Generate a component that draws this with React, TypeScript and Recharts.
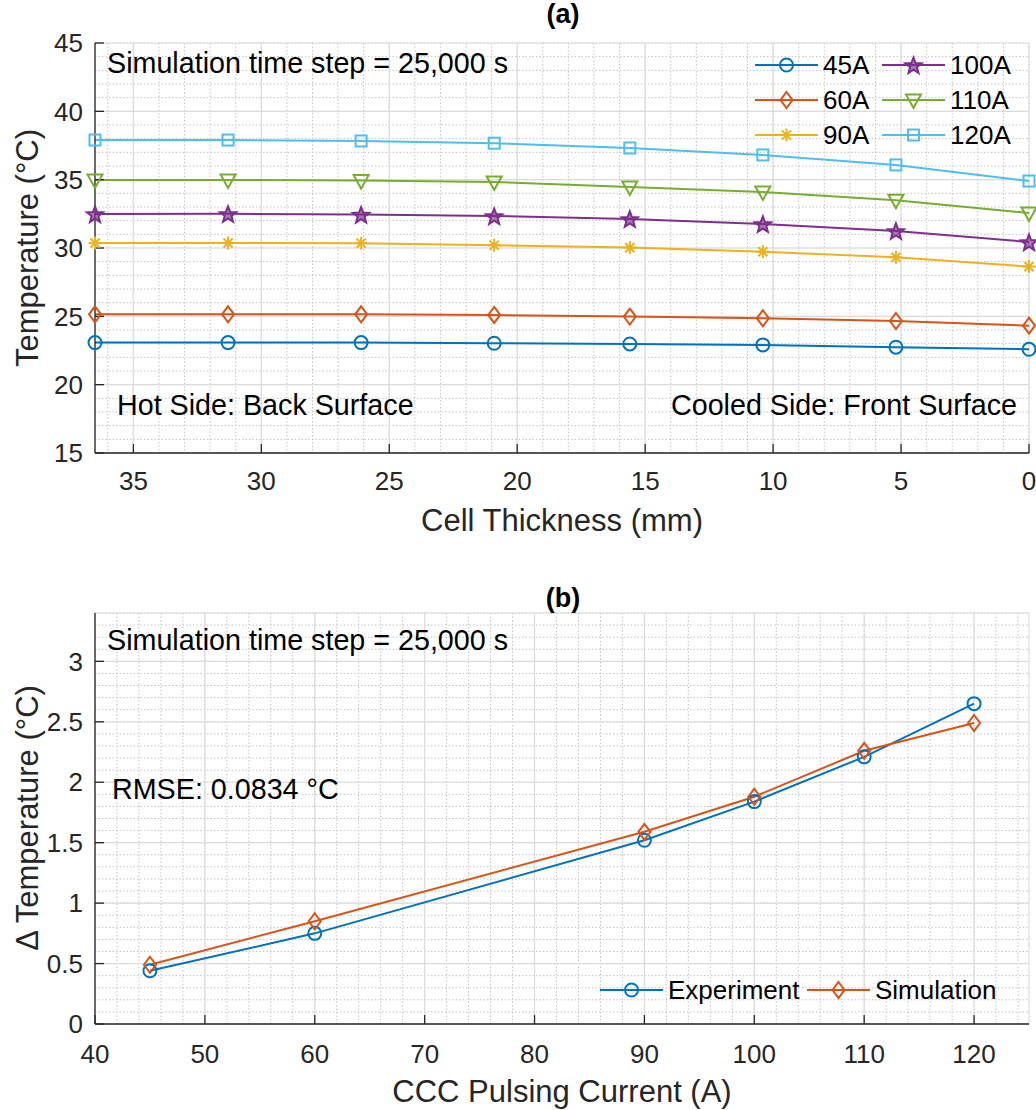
import React from 'react';
import { LineChart, Line, XAxis, YAxis, CartesianGrid } from 'recharts';

const FONT = '"Liberation Sans", Arial, Helvetica, sans-serif';
const AXIS = '#262626';
const MAJOR_GRID = '#dcdcdc';
const MINOR_GRID = '#c4c4c4';

// ---------- (a) temperature profile across the cell ----------
const thicknessMm = [36.5, 31.3, 26.1, 20.9, 15.6, 10.4, 5.2, 0];
const temp45A = [23.08, 23.08, 23.08, 23.03, 22.98, 22.91, 22.74, 22.59];
const temp60A = [25.15, 25.15, 25.15, 25.1, 24.98, 24.86, 24.66, 24.32];
const temp90A = [30.36, 30.37, 30.35, 30.2, 30.03, 29.73, 29.32, 28.64];
const temp100A = [32.49, 32.5, 32.45, 32.34, 32.13, 31.76, 31.25, 30.44];
const temp110A = [34.98, 34.98, 34.93, 34.83, 34.47, 34.1, 33.5, 32.56];
const temp120A = [37.9, 37.9, 37.83, 37.67, 37.32, 36.81, 36.08, 34.9];
const thicknessTicks = [0, 5, 10, 15, 20, 25, 30, 35];
const tempTicks = [15, 20, 25, 30, 35, 40, 45];

// ---------- (b) delta temperature vs pulsing current ----------
const currentA = [45, 60, 90, 100, 110, 120];
const deltaExperiment = [0.44, 0.75, 1.52, 1.84, 2.21, 2.65];
const deltaSimulation = [0.49, 0.85, 1.59, 1.88, 2.26, 2.49];
const currentTicks = [40, 50, 60, 70, 80, 90, 100, 110, 120];
const deltaTicks = [0, 0.5, 1, 1.5, 2, 2.5, 3];

// minor grid values
const thicknessMinor = Array.from({ length: 37 }, (_, i) => i);
const tempMinor = Array.from({ length: 31 }, (_, i) => 15 + i);
const currentMinor = Array.from({ length: 43 }, (_, i) => 40 + 2 * i);
const deltaMinor = Array.from({ length: 35 }, (_, i) => i / 10);

type Shape = 'circle' | 'diamond' | 'asterisk' | 'star' | 'triDown' | 'square';

const seriesA: { key: string; name: string; color: string; shape: Shape; values: number[] }[] = [
  { key: 's45', name: '45A', color: '#0072BD', shape: 'circle', values: temp45A },
  { key: 's60', name: '60A', color: '#D95319', shape: 'diamond', values: temp60A },
  { key: 's90', name: '90A', color: '#EDB120', shape: 'asterisk', values: temp90A },
  { key: 's100', name: '100A', color: '#7E2F8E', shape: 'star', values: temp100A },
  { key: 's110', name: '110A', color: '#77AC30', shape: 'triDown', values: temp110A },
  { key: 's120', name: '120A', color: '#4DBEEE', shape: 'square', values: temp120A },
];

const seriesB: { key: string; name: string; color: string; shape: Shape; values: number[] }[] = [
  { key: 'exp', name: 'Experiment', color: '#0072BD', shape: 'circle', values: deltaExperiment },
  { key: 'sim', name: 'Simulation', color: '#D95319', shape: 'diamond', values: deltaSimulation },
];

const dataA = thicknessMm.map((x, i) => {
  const row: Record<string, number> = { x };
  seriesA.forEach((s) => (row[s.key] = s.values[i]));
  return row;
});
const dataB = currentA.map((x, i) => {
  const row: Record<string, number> = { x };
  seriesB.forEach((s) => (row[s.key] = s.values[i]));
  return row;
});

function Marker({ shape, cx, cy, color }: { shape: Shape; cx: number; cy: number; color: string }) {
  if (cx == null || cy == null || isNaN(cx) || isNaN(cy)) return null;
  const common = { fill: 'none', stroke: color, strokeWidth: 2 };
  switch (shape) {
    case 'circle':
      return <circle cx={cx} cy={cy} r={6.5} {...common} />;
    case 'diamond':
      return (
        <polygon
          points={`${cx},${cy - 8} ${cx + 6},${cy} ${cx},${cy + 8} ${cx - 6},${cy}`}
          {...common}
        />
      );
    case 'asterisk':
      return (
        <g stroke={color} strokeWidth={2}>
          <line x1={cx} y1={cy - 6.5} x2={cx} y2={cy + 6.5} />
          <line x1={cx - 6.5} y1={cy} x2={cx + 6.5} y2={cy} />
          <line x1={cx - 4.6} y1={cy - 4.6} x2={cx + 4.6} y2={cy + 4.6} />
          <line x1={cx - 4.6} y1={cy + 4.6} x2={cx + 4.6} y2={cy - 4.6} />
        </g>
      );
    case 'star': {
      const pts: string[] = [];
      for (let k = 0; k < 10; k++) {
        const r = k % 2 === 0 ? 8.5 : 3.6;
        const a = -Math.PI / 2 + (k * Math.PI) / 5;
        pts.push(`${cx + r * Math.cos(a)},${cy + 1 + r * Math.sin(a)}`);
      }
      return <polygon points={pts.join(' ')} fill={color} fillOpacity={0.65} stroke={color} strokeWidth={2} />;
    }
    case 'triDown':
      return (
        <polygon
          points={`${cx - 7.5},${cy - 5.5} ${cx + 7.5},${cy - 5.5} ${cx},${cy + 8}`}
          {...common}
        />
      );
    case 'square':
      return <rect x={cx - 5.5} y={cy - 5.5} width={11} height={11} {...common} />;
  }
  return null;
}

const tickStyle = { fill: AXIS, fontSize: 26, fontFamily: FONT };
const axisLineStyle = { stroke: AXIS, strokeWidth: 1.3 };
const TICK = -9;

function minorGrid(xVals: number[], yVals: number[]) {
  return (
    <CartesianGrid
      stroke={MINOR_GRID}
      strokeDasharray="1.5 2"
      strokeWidth={1}
      verticalValues={xVals}
      horizontalValues={yVals}
    />
  );
}

function LegendEntry({ x, y, s, fontSize }: { x: number; y: number; s: { name: string; color: string; shape: Shape }; fontSize: number }) {
  return (
    <g>
      <line x1={x} y1={y} x2={x + 63} y2={y} stroke={s.color} strokeWidth={2} />
      <Marker shape={s.shape} cx={x + 31.5} cy={y} color={s.color} />
      <text x={x + 68} y={y + fontSize * 0.36} fontSize={fontSize} fontFamily={FONT} fill="#000">
        {s.name}
      </text>
    </g>
  );
}

export default function App() {
  return (
    <div style={{ position: 'absolute', left: 0, top: 0, width: 1036, height: 1110, background: '#fff' }}>
      {/* (a) */}
      <div style={{ position: 'absolute', left: 0, top: 0 }}>
        <LineChart width={1036} height={560} data={dataA} margin={{ top: 43, right: 7, bottom: 0, left: 0 }}>
          {minorGrid(thicknessMinor, tempMinor)}
          <CartesianGrid stroke={MAJOR_GRID} strokeWidth={1.2} />
          <XAxis
            type="number"
            dataKey="x"
            domain={[0, 36.5]}
            reversed
            ticks={thicknessTicks}
            interval={0}
            height={107}
            tickSize={TICK}
            tickMargin={28}
            tick={tickStyle}
            tickLine={axisLineStyle}
            axisLine={axisLineStyle}
          />
          <XAxis
            xAxisId="top"
            orientation="top"
            type="number"
            dataKey="x"
            domain={[0, 36.5]}
            reversed
            ticks={thicknessTicks}
            interval={0}
            height={0}
            tickSize={TICK}
            tickFormatter={() => ''}
            tickLine={axisLineStyle}
            axisLine={axisLineStyle}
          />
          <YAxis
            type="number"
            domain={[15, 45]}
            ticks={tempTicks}
            interval={0}
            width={95}
            tickSize={TICK}
            tickMargin={21}
            tick={tickStyle}
            tickLine={axisLineStyle}
            axisLine={axisLineStyle}
          />
          <YAxis
            yAxisId="right"
            orientation="right"
            type="number"
            domain={[15, 45]}
            ticks={tempTicks}
            interval={0}
            width={0}
            tickSize={TICK}
            tickFormatter={() => ''}
            tickLine={axisLineStyle}
            axisLine={axisLineStyle}
          />
          {seriesA.map((s) => (
            <Line
              key={s.key}
              type="linear"
              dataKey={s.key}
              name={s.name}
              stroke={s.color}
              strokeWidth={2}
              isAnimationActive={false}
              activeDot={false}
              dot={(p: any) => <Marker key={`${s.key}-${p.index}`} shape={s.shape} cx={p.cx} cy={p.cy} color={s.color} />}
            />
          ))}
        </LineChart>
      </div>

      {/* (b) */}
      <div style={{ position: 'absolute', left: 0, top: 560 }}>
        <LineChart width={1036} height={550} data={dataB} margin={{ top: 53, right: 7, bottom: 0, left: 0 }}>
          {minorGrid(currentMinor, deltaMinor)}
          <CartesianGrid stroke={MAJOR_GRID} strokeWidth={1.2} />
          <XAxis
            type="number"
            dataKey="x"
            domain={[40, 125]}
            ticks={currentTicks}
            interval={0}
            height={86}
            tickSize={TICK}
            tickMargin={30}
            tick={tickStyle}
            tickLine={axisLineStyle}
            axisLine={axisLineStyle}
          />
          <XAxis
            xAxisId="top"
            orientation="top"
            type="number"
            dataKey="x"
            domain={[40, 125]}
            ticks={currentTicks}
            interval={0}
            height={0}
            tickSize={TICK}
            tickFormatter={() => ''}
            tickLine={axisLineStyle}
            axisLine={axisLineStyle}
          />
          <YAxis
            type="number"
            domain={[0, 3.4]}
            ticks={deltaTicks}
            interval={0}
            width={95}
            tickSize={TICK}
            tickMargin={21}
            tick={tickStyle}
            tickLine={axisLineStyle}
            axisLine={axisLineStyle}
          />
          <YAxis
            yAxisId="right"
            orientation="right"
            type="number"
            domain={[0, 3.4]}
            ticks={deltaTicks}
            interval={0}
            width={0}
            tickSize={TICK}
            tickFormatter={() => ''}
            tickLine={axisLineStyle}
            axisLine={axisLineStyle}
          />
          {seriesB.map((s) => (
            <Line
              key={s.key}
              type="linear"
              dataKey={s.key}
              name={s.name}
              stroke={s.color}
              strokeWidth={2}
              isAnimationActive={false}
              activeDot={false}
              dot={(p: any) => <Marker key={`${s.key}-${p.index}`} shape={s.shape} cx={p.cx} cy={p.cy} color={s.color} />}
            />
          ))}
        </LineChart>
      </div>

      {/* text overlay: titles, labels, annotations, legends */}
      <svg
        width={1036}
        height={1110}
        style={{ position: 'absolute', left: 0, top: 0, pointerEvents: 'none' }}
        fontFamily={FONT}
      >
        <text x={563} y={23} textAnchor="middle" fontSize={27} fontWeight="bold" fill="#000">(a)</text>
        <text x={563} y={607} textAnchor="middle" fontSize={27} fontWeight="bold" fill="#000">(b)</text>

        <text x={107} y={73} fontSize={28.7} fill="#000">Simulation time step = 25,000 s</text>
        <text x={117} y={415} fontSize={28.7} fill="#000">Hot Side: Back Surface</text>
        <text x={1017} y={415} textAnchor="end" fontSize={28.7} fill="#000">Cooled Side: Front Surface</text>
        <text x={107} y={650} fontSize={28.7} fill="#000">Simulation time step = 25,000 s</text>
        <text x={112} y={799} fontSize={28.7} fill="#000">RMSE: 0.0834 °C</text>

        <text x={562} y={531} textAnchor="middle" fontSize={31} fill={AXIS}>Cell Thickness (mm)</text>
        <text x={562} y={1102} textAnchor="middle" fontSize={31} fill={AXIS}>CCC Pulsing Current (A)</text>
        <text transform="translate(38,248) rotate(-90)" textAnchor="middle" fontSize={31} fill={AXIS}>Temperature (°C)</text>
        <text transform="translate(38,818) rotate(-90)" textAnchor="middle" fontSize={31} fill={AXIS}>Δ Temperature (°C)</text>

        <LegendEntry x={755} y={65} s={seriesA[0]} fontSize={26} />
        <LegendEntry x={755} y={100} s={seriesA[1]} fontSize={26} />
        <LegendEntry x={755} y={135} s={seriesA[2]} fontSize={26} />
        <LegendEntry x={882} y={65} s={seriesA[3]} fontSize={26} />
        <LegendEntry x={882} y={100} s={seriesA[4]} fontSize={26} />
        <LegendEntry x={882} y={135} s={seriesA[5]} fontSize={26} />

        <LegendEntry x={600} y={990} s={seriesB[0]} fontSize={26} />
        <LegendEntry x={807} y={990} s={seriesB[1]} fontSize={26} />
      </svg>
    </div>
  );
}
